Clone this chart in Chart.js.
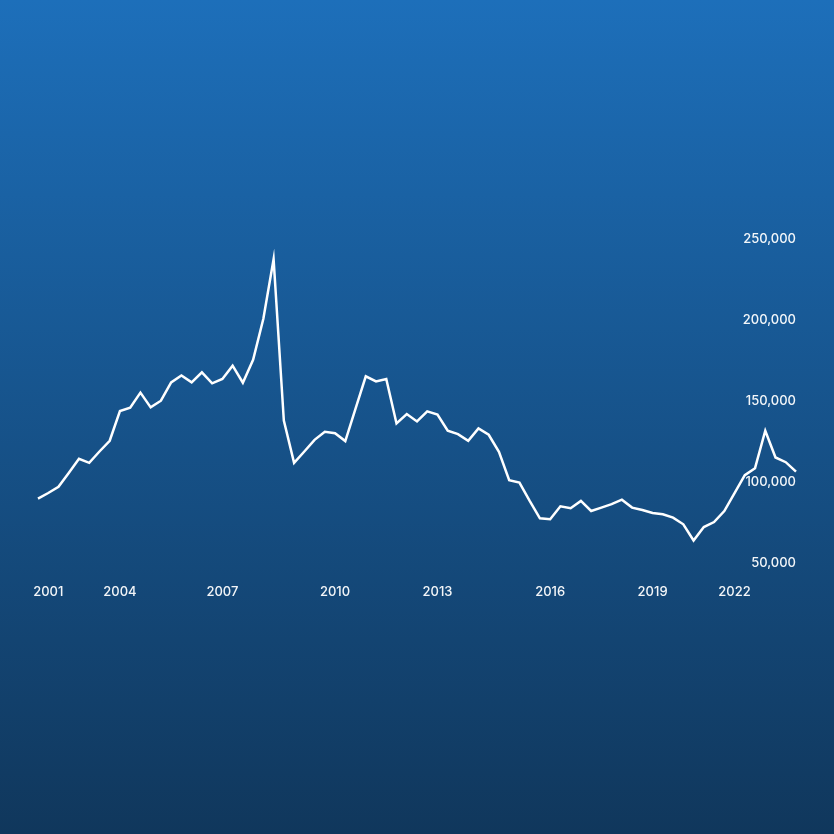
<!DOCTYPE html>
<html>
<head>
<meta charset="utf-8">
<script src="https://cdn.jsdelivr.net/npm/chart.js@4"></script>
<style>
  html, body { margin: 0; padding: 0; width: 834px; height: 834px; overflow: hidden; }
  body { background: linear-gradient(to bottom, #1d6fba 0%, #10375c 100%); }
  #wrap { width: 834px; height: 834px; position: relative; }
</style>
</head>
<body>
<div id="wrap"><canvas id="c"></canvas></div>
<script>
// Category labels (one per data point; only the shown year ticks carry text)
const categories = [
  '', '2001', '', '', '', '', '', '',
  '2004', '', '', '', '', '', '', '', '', '',
  '2007', '', '', '', '', '', '', '', '', '', '',
  '2010', '', '', '', '', '', '', '', '', '',
  '2013', '', '', '', '', '', '', '', '', '', '',
  '2016', '', '', '', '', '', '', '', '', '',
  '2019', '', '', '', '', '', '', '',
  '2022', '', '', '', '', '', ''
];

// Series values
const values = [
  89900, 93400, 97200, 105800, 114500, 112000, 119000, 125600, 143900, 146000,
  155300, 146200, 150300, 161600, 165800, 161600, 167800, 161000, 163700, 171900,
  161400, 175500, 200800, 237500, 138000, 112000, 119000, 126200, 131150, 130300,
  125400, 145400, 165300, 162200, 163700, 136300, 142100, 137500, 143700, 141800,
  131800, 129700, 125600, 133200, 129300, 118800, 101300, 99800, 88500, 77800,
  77200, 85200, 84000, 88500, 82300, 84400, 86500, 89300, 84400, 82900,
  81100, 80300, 78200, 74100, 64100, 72400, 75500, 82300, 93300, 104400,
  108700, 131800, 115300, 112400, 106600
];

// Y tick values
const yTicks = [50000, 100000, 150000, 200000, 250000];

const ctx = document.getElementById('c');
new Chart(ctx, {
  type: 'line',
  data: {
    labels: categories,
    datasets: [{
      data: values,
      borderColor: '#ffffff',
      borderWidth: 2.5,
      pointRadius: 0,
      pointHoverRadius: 0,
      tension: 0,
      fill: false
    }]
  },
  options: {
    responsive: true,
    maintainAspectRatio: false,
    animation: false,
    layout: { padding: { left: 38, right: 38, top: 239, bottom: 213 } },
    plugins: { legend: { display: false }, tooltip: { enabled: false } },
    scales: {
      x: {
        type: 'category',
        grid: { display: false, drawTicks: false },
        border: { display: false },
        ticks: {
          autoSkip: false,
          maxRotation: 0,
          minRotation: 0,
          padding: 21,
          color: 'rgba(255,255,255,0.95)',
          font: { family: 'Inter', size: 13, weight: '500' }
        }
      },
      y: {
        position: 'right',
        min: yTicks[0],
        max: yTicks[yTicks.length - 1],
        grid: { display: false, drawTicks: false },
        border: { display: false },
        afterBuildTicks: (axis) => { axis.ticks = yTicks.map(v => ({ value: v })); },
        ticks: {
          mirror: true,
          padding: 0,
          color: 'rgba(255,255,255,0.95)',
          font: { family: 'Inter', size: 13, weight: '500' },
          callback: (v) => v.toLocaleString('en-US')
        }
      }
    }
  }
});
</script>
</body>
</html>
